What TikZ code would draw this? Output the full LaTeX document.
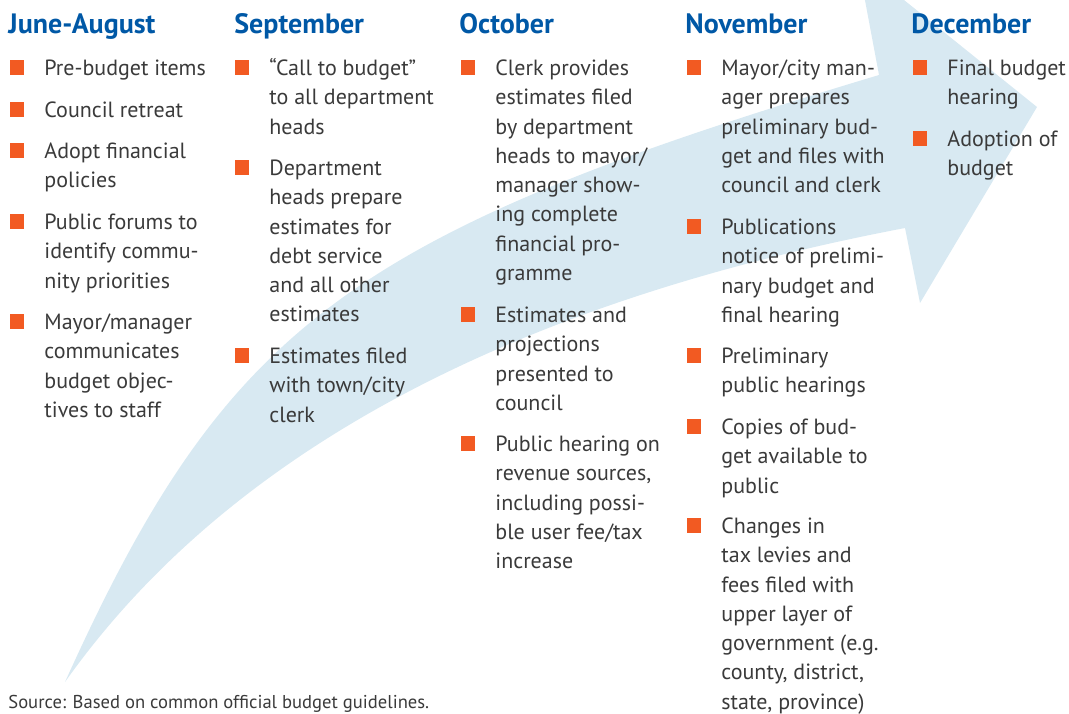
\documentclass[tikz,border=0pt]{standalone}
\usepackage{fontspec}
\setmainfont{PT Sans}
\definecolor{arrowblue}{RGB}{216,233,242}
\definecolor{bulletorange}{RGB}{242,90,34}
\definecolor{headblue}{RGB}{0,88,166}
\definecolor{bodygray}{RGB}{58,58,58}
\newcommand{\budgetitem}[4]{%
  \node[bulletsq] (b#1) at (#2-27,#3-7.5) {};
  \node[itemtext] (t#1) at (#2,#3-18) {\rule{0pt}{9pt}#4};
}
\begin{document}
\begin{tikzpicture}[x=0.5pt,y=-0.5pt,
  bulletsq/.style={fill=bulletorange,inner sep=0pt,minimum width=7pt,minimum height=7.3pt},
  itemtext/.style={anchor=north west,inner sep=0pt,align=left,text=bodygray,font=\fontsize{11}{14.65}\selectfont},
  heading/.style={anchor=base west,inner sep=0pt,text=headblue,font=\fontsize{14}{16}\selectfont\bfseries},
  sourcetext/.style={anchor=base west,inner sep=0pt,text=bodygray,font=\fontsize{9.3}{11}\selectfont},
  arrowshape/.style={fill=arrowblue}]
\useasboundingbox (0,0) rectangle (1069,713);
\begin{scope}
\clip (0,0) rectangle (1069,713);
\fill[arrowshape] (65,682) .. controls (226.5,324.7) and (348.6,234) .. (879,75)
  -- (858,-37) -- (1037,107) -- (920,303) -- (905,228)
  .. controls (506,304) and (226,455) .. (65,682) -- cycle;
\end{scope}

\node[heading] (h1) at (8,33) {June-August};
\node[heading] (h2) at (234,33) {September};
\node[heading] (h3) at (459,33) {October};
\node[heading] (h4) at (685,33) {November};
\node[heading] (h5) at (911,33) {December};

\budgetitem{11}{44}{75}{Pre-budget items}
\budgetitem{12}{44}{117}{Council retreat}
\budgetitem{13}{44}{158}{Adopt financial\\policies}
\budgetitem{14}{44}{229}{Public forums to\\identify commu-\\nity priorities}
\budgetitem{15}{44}{329}{Mayor/manager\\communicates\\budget objec-\\tives to staff}

\budgetitem{21}{269}{75}{“Call to budget”\\to all department\\heads}
\budgetitem{22}{269}{175}{Department\\heads prepare\\estimates for\\debt service\\and all other\\estimates}
\budgetitem{23}{269}{363}{Estimates filed\\with town/city\\clerk}

\budgetitem{31}{495}{75}{Clerk provides\\estimates filed\\by department\\heads to mayor/\\manager show-\\ing complete\\financial pro-\\gramme}
\budgetitem{32}{495}{322}{Estimates and\\projections\\presented to\\council}
\budgetitem{33}{495}{451}{Public hearing on\\revenue sources,\\including possi-\\ble user fee/tax\\increase}

\budgetitem{41}{721}{75}{Mayor/city man-\\ager prepares\\preliminary bud-\\get and files with\\council and clerk}
\budgetitem{42}{721}{234}{Publications\\notice of prelimi-\\nary budget and\\final hearing}
\budgetitem{43}{721}{363}{Preliminary\\public hearings}
\budgetitem{44}{721}{434}{Copies of bud-\\get available to\\public}
\budgetitem{45}{721}{533}{Changes in\\tax levies and\\fees filed with\\upper layer of\\government (e.g.\\county, district,\\state, province)}

\budgetitem{51}{947}{75}{Final budget\\hearing}
\budgetitem{52}{947}{146}{Adoption of\\budget}

\node[sourcetext] (src) at (8,708) {Source: Based on common official budget guidelines.};
\end{tikzpicture}
\end{document}
